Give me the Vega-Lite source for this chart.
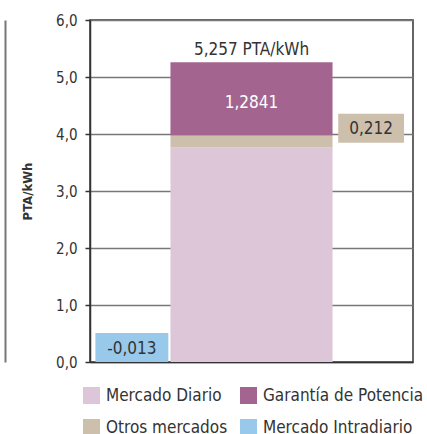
{
  "$schema": "https://vega.github.io/schema/vega-lite/v6.json",
  "width": 323,
  "height": 342,
  "autosize": {"type": "none"},
  "padding": {"left": 90, "top": 20, "right": 14, "bottom": 72},
  "background": "white",
  "config": {
    "locale": {"number": {"decimal": ",", "thousands": ".", "grouping": [3], "currency": ["", ""], "minus": "-"}},
    "font": "DejaVu Sans Condensed",
    "view": {"stroke": "#333333", "strokeWidth": 1.5},
    "legend": {"padding": 0}
  },
  "datasets": {
    "componentes": [
      {"grupo": "Total", "componente": "Mercado Diario", "valor": 3.761, "orden": 1},
      {"grupo": "Total", "componente": "Otros mercados", "valor": 0.212, "orden": 2},
      {"grupo": "Total", "componente": "Garantía de Potencia", "valor": 1.2841, "orden": 3}
    ],
    "cajas": [
      {"grupo": "Intradiario", "componente": "Mercado Intradiario", "valor": -0.013, "texto": "-0,013", "ancla": 0.254},
      {"grupo": "Otros", "componente": "Otros mercados", "valor": 0.212, "texto": "0,212", "ancla": 4.099}
    ],
    "etiquetas": [
      {"grupo": "Total", "texto": "5,257 PTA/kWh", "ancla": 5.257, "tipo": "total"},
      {"grupo": "Total", "texto": "1,2841", "ancla": 4.615, "tipo": "segmento"}
    ]
  },
  "resolve": {"axis": {"y": "independent"}},
  "encoding": {
    "x": {
      "field": "grupo",
      "type": "nominal",
      "scale": {"domain": ["Intradiario", "Total", "Otros"], "paddingInner": 0.5, "paddingOuter": 0.1},
      "axis": {"labels": false, "ticks": false, "title": null, "domainColor": "#333333", "domainWidth": 1.5, "grid": false}
    }
  },
  "layer": [
    {
      "data": {"name": "componentes"},
      "mark": {"type": "bar", "width": {"band": 2.71}},
      "encoding": {
        "y": {
          "field": "valor",
          "type": "quantitative",
          "stack": "zero",
          "scale": {"domain": [0, 6], "nice": false},
          "axis": {
            "values": [0, 1, 2, 3, 4, 5, 6],
            "format": ".1f",
            "title": "PTA/kWh",
            "titleFontWeight": "bold",
            "titleFontSize": 13,
            "titleColor": "#333333",
            "titlePadding": 21,
            "labelFontSize": 15,
            "labelColor": "#333333",
            "labelPadding": 8,
            "tickSize": 5,
            "tickColor": "#333333",
            "tickWidth": 1.5,
            "domainColor": "#333333",
            "domainWidth": 1.5,
            "grid": true,
            "gridColor": "#777777",
            "gridWidth": 1.5
          }
        },
        "color": {
          "field": "componente",
          "type": "nominal",
          "scale": {
            "domain": ["Mercado Diario", "Garantía de Potencia", "Otros mercados", "Mercado Intradiario"],
            "range": ["#dcc6d8", "#a3658f", "#ccc0ad", "#98c9ea"]
          },
          "legend": {
            "orient": "none",
            "legendX": -7,
            "legendY": 367,
            "direction": "horizontal",
            "columns": 2,
            "title": null,
            "symbolType": "square",
            "symbolSize": 289,
            "symbolStrokeWidth": 0,
            "labelFontSize": 17,
            "labelLimit": 300,
            "labelColor": "#333333",
            "labelOffset": 6,
            "columnPadding": 12,
            "rowPadding": 14
          }
        },
        "order": {"field": "orden", "type": "quantitative"}
      }
    },
    {
      "data": {"name": "cajas"},
      "transform": [{"filter": "datum.grupo == 'Intradiario'"}],
      "mark": {"type": "bar", "width": {"band": 1.22}, "yOffset": -14.5, "y2Offset": 14.5},
      "encoding": {
        "y": {"field": "ancla", "type": "quantitative", "axis": null},
        "y2": {"field": "ancla"},
        "color": {"field": "componente", "type": "nominal"}
      }
    },
    {
      "data": {"name": "cajas"},
      "transform": [{"filter": "datum.grupo == 'Otros'"}],
      "mark": {"type": "bar", "width": {"band": 1.1}, "yOffset": -14.5, "y2Offset": 14.5},
      "encoding": {
        "y": {"field": "ancla", "type": "quantitative", "axis": null},
        "y2": {"field": "ancla"},
        "color": {"field": "componente", "type": "nominal"}
      }
    },
    {
      "data": {"name": "cajas"},
      "mark": {"type": "text", "fontSize": 17, "color": "#333333", "baseline": "middle", "dy": 1},
      "encoding": {
        "y": {"field": "ancla", "type": "quantitative", "axis": null},
        "text": {"field": "texto"}
      }
    },
    {
      "data": {"name": "etiquetas"},
      "transform": [{"filter": "datum.tipo == 'total'"}],
      "mark": {"type": "text", "fontSize": 17, "color": "#333333", "baseline": "alphabetic", "dy": -7},
      "encoding": {
        "y": {"field": "ancla", "type": "quantitative", "axis": {"orient": "left", "offset": 85, "labels": false, "ticks": false, "grid": false, "title": null, "domainColor": "#777777", "domainWidth": 2}},
        "text": {"field": "texto"}
      }
    },
    {
      "data": {"name": "etiquetas"},
      "transform": [{"filter": "datum.tipo == 'segmento'"}],
      "mark": {"type": "text", "fontSize": 17, "color": "white", "baseline": "middle", "dy": 4},
      "encoding": {
        "y": {"field": "ancla", "type": "quantitative", "axis": null},
        "text": {"field": "texto"}
      }
    }
  ]
}
